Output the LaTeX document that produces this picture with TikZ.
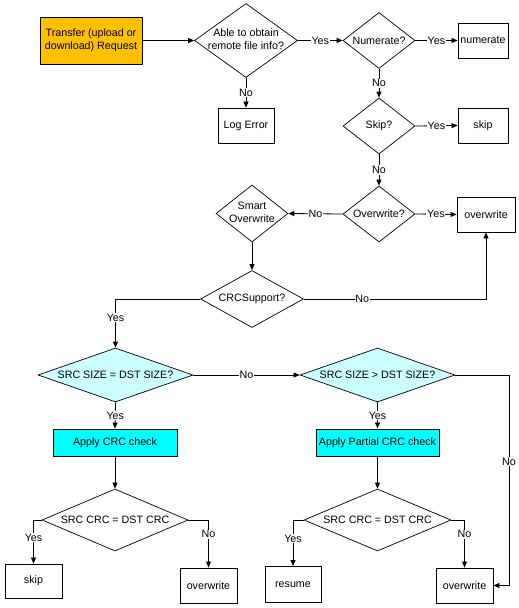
\documentclass[tikz,border=0pt]{standalone}
\usepackage{fontspec}
\setmainfont{Liberation Sans}
\usetikzlibrary{shapes.geometric,arrows.meta}
\definecolor{orangeA}{HTML}{FFC000}
\definecolor{lcyanA}{HTML}{CCFFFF}
\definecolor{cyanA}{HTML}{00FFFF}
\newcommand{\dtxt}[1]{\makebox[0pt]{#1}}
\newcommand{\dtwo}[2]{\makebox[0pt]{\begin{tabular}{@{}c@{}}#1\\#2\end{tabular}}}
\begin{document}
\begin{tikzpicture}[x=1pt,y=-1pt,
  every node/.style={font=\fontsize{10.7}{12.7}\selectfont},
  box/.style={draw, line width=0.9pt, inner sep=0pt, align=center},
  dec/.style={draw, diamond, line width=0.7pt, inner sep=0pt},
  arr/.style={-{Triangle[length=6pt,width=5pt]}, line width=0.8pt},
  ln/.style={line width=0.8pt},
  lbl/.style={fill=white, inner sep=0.8pt}]
\useasboundingbox (0,0) rectangle (519,608);

\node[box, fill=orangeA, minimum width=102pt, minimum height=47pt] (req) at (91,40.5) {Transfer (upload or\\download) Request};
\node[dec, minimum width=103pt, minimum height=74pt] (able) at (246,40.5) {\dtwo{Able to obtain}{remote file info?}};
\node[dec, minimum width=72pt, minimum height=56pt] (num) at (379,40.5) {\dtxt{Numerate?}};
\node[box, minimum width=50pt, minimum height=35pt] (numbox) at (483,40.5) {numerate};
\node[box, minimum width=56pt, minimum height=35pt] (logerr) at (246,125.5) {Log Error};
\node[dec, minimum width=72pt, minimum height=56pt] (skipd) at (379,126) {\dtxt{Skip?}};
\node[box, minimum width=50pt, minimum height=35pt] (skipbox) at (483,125.5) {skip};
\node[dec, minimum width=72pt, minimum height=56pt] (ovw) at (379,214) {\dtxt{Overwrite?}};
\node[box, minimum width=58pt, minimum height=35pt] (ovwbox) at (486,214.5) {overwrite};
\node[dec, minimum width=72pt, minimum height=57pt] (smart) at (252,213.5) {\dtwo{Smart}{Overwrite}};
\node[dec, minimum width=103pt, minimum height=57pt] (crc) at (252,299) {\dtxt{CRCSupport?}};
\node[dec, fill=lcyanA, minimum width=155pt, minimum height=54pt] (srceq) at (115.5,375) {\dtxt{SRC SIZE = DST SIZE?}};
\node[dec, fill=lcyanA, minimum width=155pt, minimum height=54pt] (srcgt) at (377.5,375) {\dtxt{SRC SIZE > DST SIZE?}};
\node[box, fill=cyanA, minimum width=124pt, minimum height=27pt] (apply) at (115,442.5) {Apply CRC check};
\node[box, fill=cyanA, minimum width=123pt, minimum height=27pt] (applyp) at (377.5,442.5) {Apply Partial CRC check};
\node[dec, minimum width=146pt, minimum height=62pt] (crc1) at (115,520) {\dtxt{SRC CRC = DST CRC}};
\node[dec, minimum width=147pt, minimum height=62pt] (crc2) at (377.5,520) {\dtxt{SRC CRC = DST CRC}};
\node[box, minimum width=57pt, minimum height=34pt] (skip2) at (33.5,581) {skip};
\node[box, minimum width=57pt, minimum height=35pt] (ow1) at (208.5,585.5) {overwrite};
\node[box, minimum width=56pt, minimum height=36pt] (resume) at (293,584.5) {resume};
\node[box, minimum width=57pt, minimum height=35pt] (ow2) at (464.5,585.5) {overwrite};
\coordinate (rc) at (509,375);

\draw[arr] (req) -- (able);
\draw[arr] (able.east) -- node[lbl]{Yes} (num.west);
\draw[arr] (num.east) -- node[lbl]{Yes} (numbox.west);
\draw[arr] (able.south) -- node[lbl]{No} (logerr.north);
\draw[arr] (num.south) -- node[lbl]{No} (skipd.north);
\draw[arr] (skipd.east) -- node[lbl]{Yes} (skipbox.west);
\draw[arr] (skipd.south) -- node[lbl]{No} (ovw.north);
\draw[arr] (ovw.east) -- node[lbl]{Yes} (ovwbox.west);
\draw[arr] (ovw.west) -- node[lbl]{No} (smart.east);
\draw[arr] (smart.south) -- (crc.north);
\draw[arr] (crc.east) -| node[lbl, pos=0.16]{No} (ovwbox.south);
\draw[arr] (crc.west) -| node[lbl, pos=0.69]{Yes} (srceq.north);
\draw[arr] (srceq.south) -- node[lbl]{Yes} (apply.north);
\draw[arr] (srceq.east) -- node[lbl]{No} (srcgt.west);
\draw[arr] (srcgt.south) -- node[lbl]{Yes} (applyp.north);
\draw[arr] (srcgt.east) -- (rc) |- node[lbl, pos=0.206]{No} (ow2.east);
\draw[arr] (apply.south) -- (crc1.north);
\draw[arr] (applyp.south) -- (crc2.north);
\draw[arr] (crc1.west) -| node[lbl, pos=0.70]{Yes} (skip2.north);
\draw[arr] (crc1.east) -| node[lbl, pos=0.65]{No} (ow1.north);
\draw[arr] (crc2.west) -| node[lbl, pos=0.70]{Yes} (resume.north);
\draw[arr] (crc2.east) -| node[lbl, pos=0.65]{No} (ow2.north);
\end{tikzpicture}
\end{document}
